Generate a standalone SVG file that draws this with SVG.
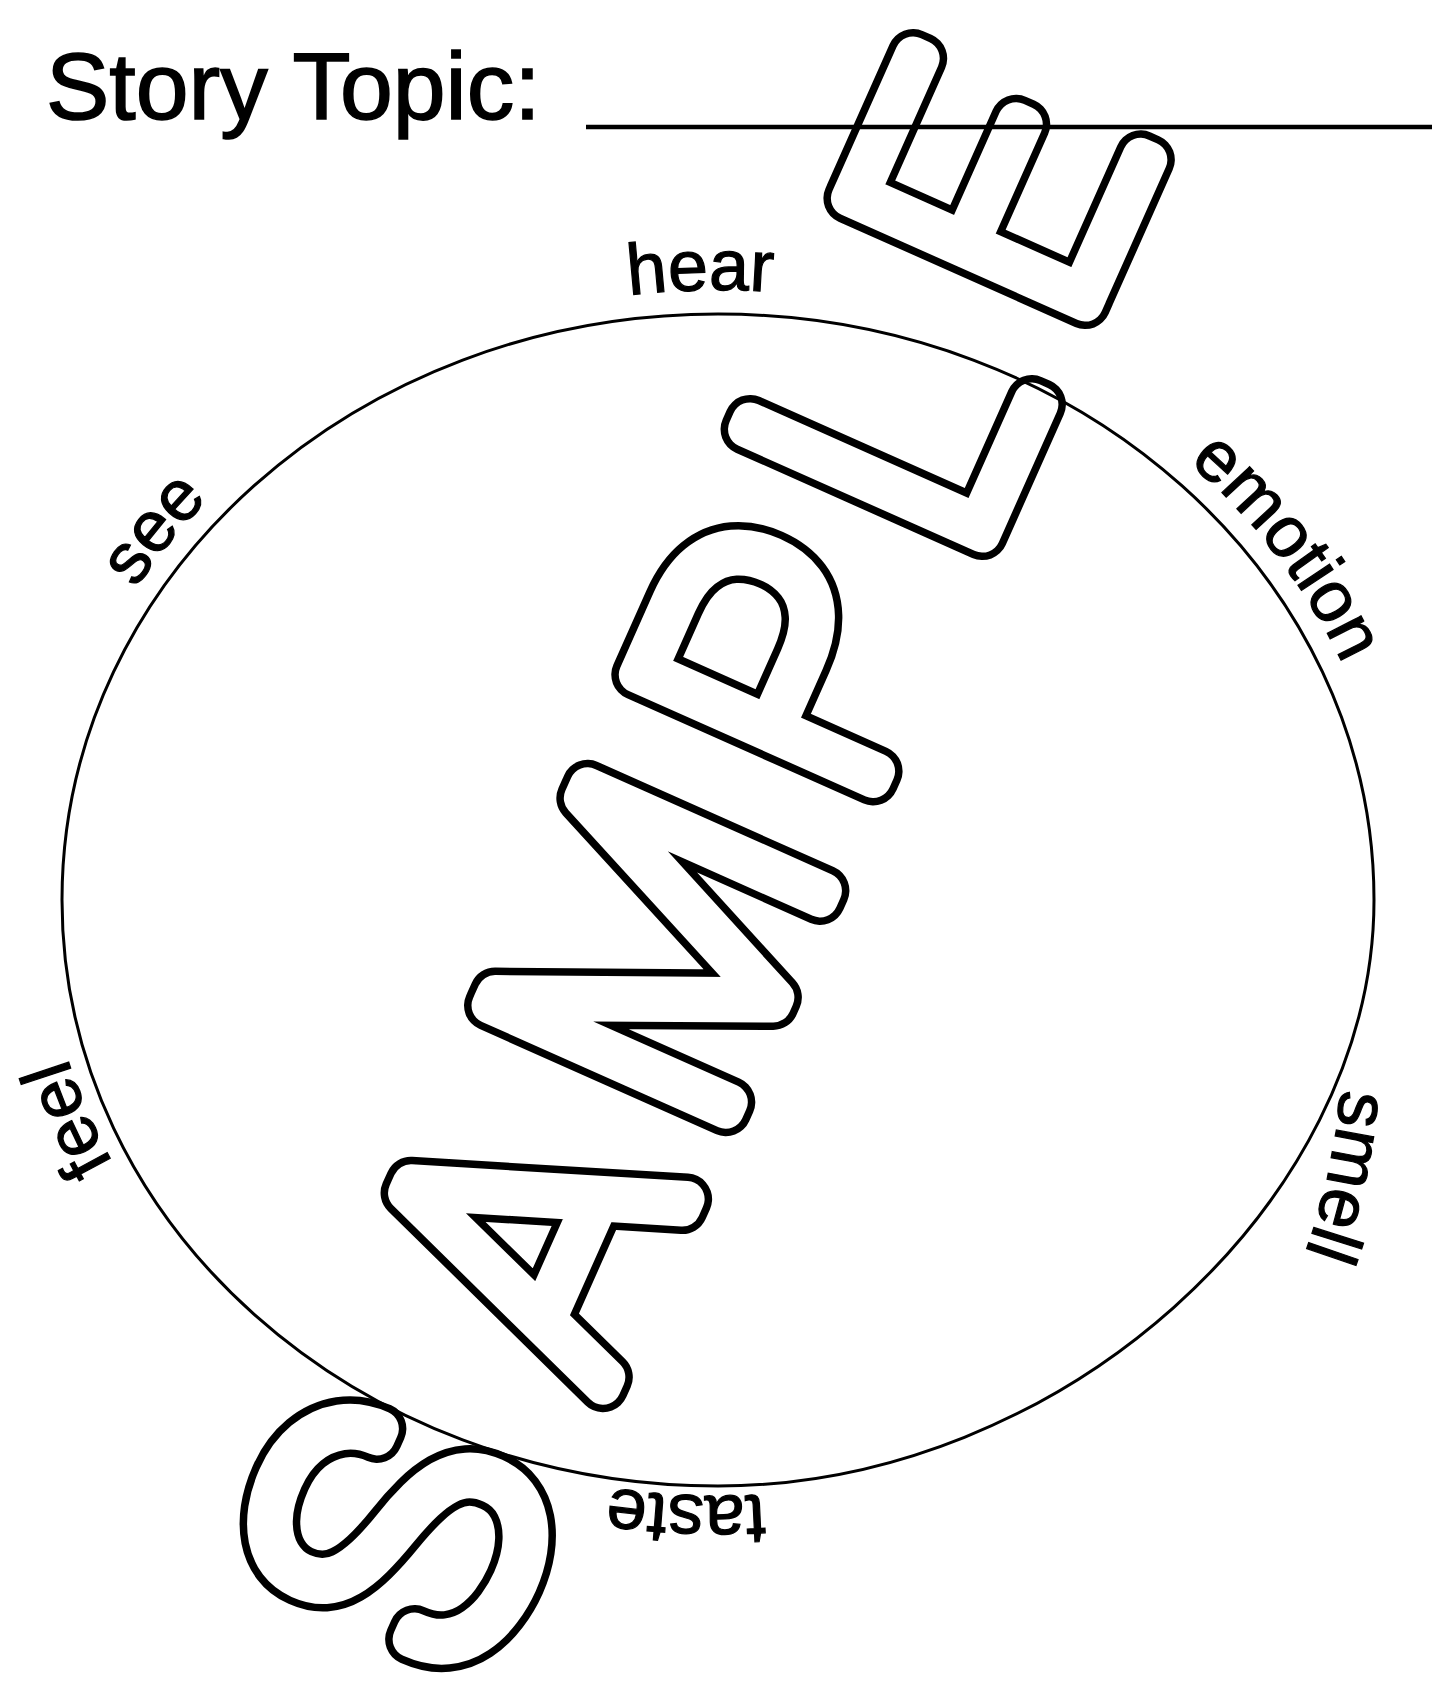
<svg xmlns="http://www.w3.org/2000/svg" xmlns:xlink="http://www.w3.org/1999/xlink" width="1432" height="1702" viewBox="0 0 1432 1702">
<style>
.title{font-family:"Liberation Sans",Arial,Helvetica,sans-serif;font-size:95px;fill:#000;stroke:#000;stroke-width:1.6px}
.lbl{font-family:"Liberation Sans",Arial,Helvetica,sans-serif;font-size:72px;fill:#000;stroke:#000;stroke-width:1.2px}
.wm{font-family:Roboto,Lato,Inter,"DejaVu Sans",sans-serif;font-weight:100;font-size:364px;letter-spacing:65px}
.wm-outer{fill:#fff;stroke:#fff;stroke-width:51px;stroke-linejoin:round;stroke-linecap:round}
.wm-inner{fill:#000;stroke:#000;stroke-width:36px;stroke-linejoin:round;stroke-linecap:round}
.guide{fill:none;stroke:none}
</style>
<defs>
<path id="p-hear" class="guide" d="M123.4,605.4 A676,601.5 0 0 1 1293.7,576.3"/>
<path id="p-emotion" class="guide" d="M694.4,293.4 A676,601.5 0 0 1 1314.9,1176.9"/>
<path id="p-smell" class="guide" d="M1192.3,619 A650,650 0 0 1 975.9,1620"/>
<path id="p-taste" class="guide" d="M1285.6,1221.2 A676,601.5 0 0 1 116.2,1168.5"/>
<path id="p-feel" class="guide" d="M594.8,1486.0 A676,601.5 0 0 1 204.0,503.9"/>
<path id="p-see" class="guide" d="M113.0,1162.9 A676,601.5 0 0 1 759.2,294.1"/>
<text id="wmText" class="wm" x="0" y="0" dx="0 40 -10 -15 -15 0" text-anchor="middle" transform="translate(826,886) rotate(-66)">SAMPLE</text>
<mask id="wmMask" maskUnits="userSpaceOnUse" x="0" y="0" width="1432" height="1702">
<use href="#wmText" class="wm-outer"/>
<use href="#wmText" class="wm-inner"/>
</mask>
</defs>
<rect x="0" y="0" width="1432" height="1702" fill="#fff"/>
<g id="header">
<text class="title" x="46" y="119">Story Topic:</text>
<line x1="586" y1="127" x2="1432" y2="127" stroke="#000" stroke-width="4.5"/>
</g>
<g id="circle">
<path d="M718,314 C1080.3,314 1374,576.4 1374,900 C1374,1204.7 1059.1,1486 718,1486 C355.7,1486 62,1223.6 62,900 C62,576.4 355.7,314 718,314 Z" fill="none" stroke="#000" stroke-width="3"/>
</g>
<g id="labels">
<g id="hear"><text class="lbl"><textPath href="#p-hear" startOffset="50%" text-anchor="middle">hear</textPath></text></g>
<g id="emotion"><text class="lbl"><textPath href="#p-emotion" startOffset="50%" text-anchor="middle">emotion</textPath></text></g>
<g id="smell"><text class="lbl"><textPath href="#p-smell" startOffset="50%" text-anchor="middle">smell</textPath></text></g>
<g id="taste"><text class="lbl"><textPath href="#p-taste" startOffset="50%" text-anchor="middle">taste</textPath></text></g>
<g id="feel"><text class="lbl"><textPath href="#p-feel" startOffset="50%" text-anchor="middle">feel</textPath></text></g>
<g id="see"><text class="lbl"><textPath href="#p-see" startOffset="50%" text-anchor="middle">see</textPath></text></g>
</g>
<g id="watermark">
<rect x="0" y="0" width="1432" height="1702" fill="#000" mask="url(#wmMask)"/>
</g>
</svg>
